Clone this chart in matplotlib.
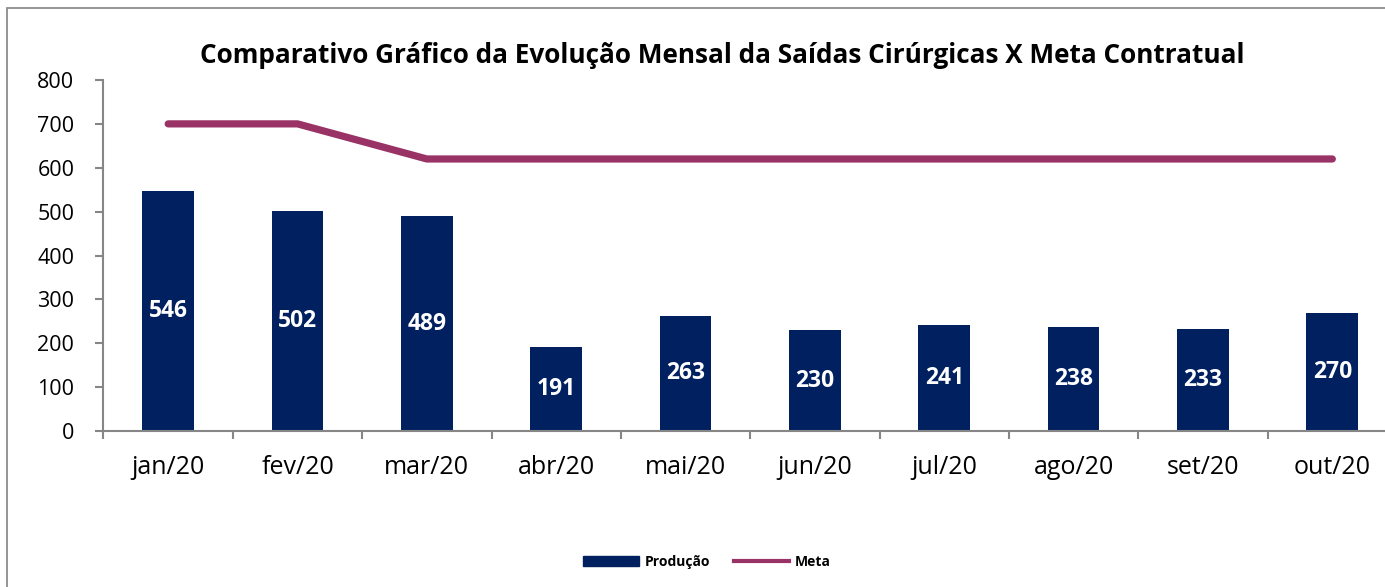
import matplotlib
matplotlib.use("Agg")
import matplotlib.pyplot as plt
from matplotlib.patches import Rectangle, Patch
from matplotlib.lines import Line2D
import numpy as np

categories = ["jan/20", "fev/20", "mar/20", "abr/20", "mai/20", "jun/20", "jul/20", "ago/20", "set/20", "out/20"]
producao = [546, 502, 489, 191, 263, 230, 241, 238, 233, 270]
meta = [700, 700, 620, 620, 620, 620, 620, 620, 620, 620]
yticks = [0, 100, 200, 300, 400, 500, 600, 700, 800]

plt.rcParams['font.family'] = ['Open Sans', 'DejaVu Sans']

W, H = 1385, 587
fig = plt.figure(figsize=(W / 100, H / 100), dpi=100)

# chart border
fig.patches.append(Rectangle((7 / W, 0 - 0.05), 1.1, (H - 8) / H + 0.05, transform=fig.transFigure,
                             fill=False, edgecolor="#8c8c8c", linewidth=1.3))

left, right = 103.5, 1397
top, bottom = 80, 431
ax = fig.add_axes([left / W, 1 - bottom / H, (right - left) / W, (bottom - top) / H])

x = np.arange(len(categories))
bar_color = "#002060"
line_color = "#993366"
ax.bar(x, producao, width=0.40, color=bar_color, zorder=2)
ax.plot(x, meta, color=line_color, linewidth=5.2, solid_capstyle="round", zorder=3)

for xi, v in zip(x, producao):
    ax.text(xi, v / 2, str(v), ha="center", va="center", color="white",
            fontsize=16.5, fontweight="bold")

ax.set_xlim(-0.5, len(categories) - 0.5)
ax.set_ylim(0, 800)
ax.set_yticks(yticks)
ax.set_yticklabels([str(t) for t in yticks], fontsize=15.5)
ax.set_xticks(x)
ax.set_xticklabels(categories, fontsize=18)
ax.tick_params(axis="x", length=0, pad=17)
ax.set_xticks(np.arange(-0.5, len(categories), 1), minor=True)
ax.tick_params(axis="x", which="minor", length=6, width=1.5, color="#868686", direction="out")
ax.tick_params(axis="y", length=6, width=1.5, color="#868686", direction="out", pad=15)

for s in ["top", "right"]:
    ax.spines[s].set_visible(False)
for s in ["left", "bottom"]:
    ax.spines[s].set_color("#868686")
    ax.spines[s].set_linewidth(1.5)

fig.text(722 / W, 1 - 63 / H, "Comparativo Gráfico da Evolução Mensal da Saídas Cirúrgicas X Meta Contratual",
         ha="center", va="baseline", fontsize=18.8, fontweight="bold")

handles = [Patch(facecolor=bar_color, edgecolor=bar_color),
           Line2D([0], [0], color=line_color, linewidth=3)]
fig.legend(handles, ["Produção", "Meta"], loc="center", bbox_to_anchor=(707 / W, 1 - 562 / H),
           ncol=2, frameon=False, prop={"weight": "bold", "size": 10},
           handlelength=4, handleheight=0.65, columnspacing=1.7, handletextpad=0.43)

fig.savefig("out.png", dpi=100)
